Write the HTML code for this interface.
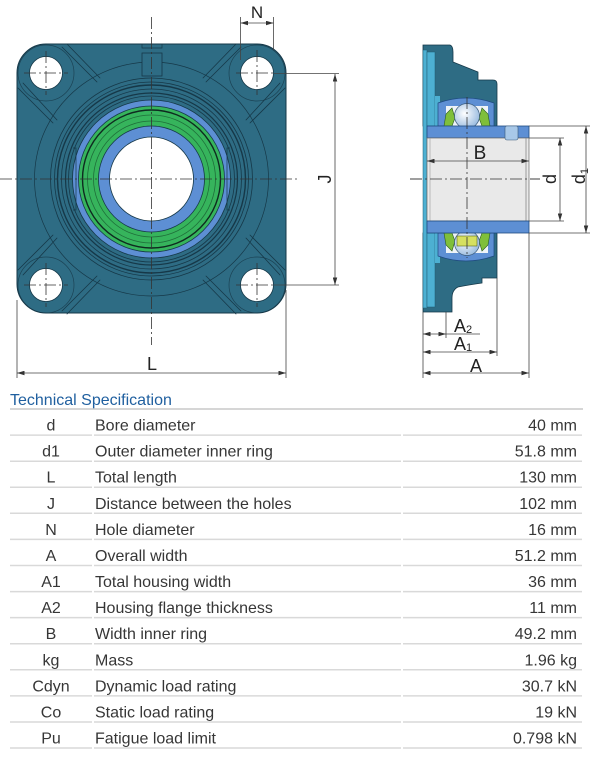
<!DOCTYPE html>
<html><head><meta charset="utf-8">
<style>html,body{margin:0;padding:0;background:#fff;}svg{display:block;}</style></head>
<body>
<svg width="600" height="763" viewBox="0 0 600 763" xmlns="http://www.w3.org/2000/svg" font-family="'Liberation Sans', sans-serif">
<defs>
<marker id="ar" viewBox="0 0 10 6" refX="10" refY="3" markerWidth="8" markerHeight="4.5" orient="auto-start-reverse" markerUnits="userSpaceOnUse"><path d="M0,0 L10,3 L0,6 z" fill="#333"/></marker>
<radialGradient id="ball" cx="0.4" cy="0.4" r="0.7"><stop offset="0" stop-color="#ffffff"/><stop offset="1" stop-color="#8fb4dc"/></radialGradient>
<clipPath id="hc"><rect x="17" y="44" width="269" height="269" rx="29"/></clipPath>
<g id="rib" fill="none" stroke="#163848" stroke-width="0.8" stroke-linecap="round">
  <path d="M18,88 L53,123 M23,83 L57,120"/>
  <path d="M62,47 L97,82 M67,44 L100,78"/>
</g>
</defs>

<!-- FRONT VIEW -->
<rect x="17" y="44" width="269" height="269" rx="29" fill="#2e6c84" stroke="#163848" stroke-width="1"/>
<g clip-path="url(#hc)" fill="none" stroke="#163848" stroke-width="0.7" opacity="0.8">
  <circle cx="46" cy="73" r="28"/><circle cx="257" cy="73" r="28"/>
  <circle cx="46" cy="285" r="28"/><circle cx="257" cy="285" r="28"/>
</g>
<use href="#rib"/>
<use href="#rib" transform="translate(303,0) scale(-1,1)"/>
<use href="#rib" transform="translate(0,358) scale(1,-1)"/>
<use href="#rib" transform="translate(303,358) scale(-1,-1)"/>
<g fill="none" stroke="#163848">
  <circle cx="151.5" cy="179" r="117" stroke-width="0.7"/>
  <circle cx="151.5" cy="179" r="101" stroke-width="0.8"/>
  <circle cx="151.5" cy="179" r="97" stroke-width="0.8"/>
  <circle cx="151.5" cy="179" r="94" stroke-width="1.4"/>
  <circle cx="151.5" cy="179" r="90" stroke-width="0.8"/>
  <circle cx="151.5" cy="179" r="86" stroke-width="1.2"/>
  <circle cx="151.5" cy="179" r="83" stroke-width="0.8"/>
</g>
<circle cx="151.5" cy="179" r="79" fill="#5d8fd4" stroke="#163848" stroke-width="0.8"/>
<circle cx="151.5" cy="179" r="73" fill="#36b45c" stroke="#163848" stroke-width="0.8"/>
<circle cx="151.5" cy="179" r="69" fill="none" stroke="#0f2a20" stroke-width="1.4"/>
<circle cx="151.5" cy="179" r="64" fill="none" stroke="#1f6e3a" stroke-width="0.8"/>
<circle cx="151.5" cy="179" r="58" fill="none" stroke="#1f6e3a" stroke-width="0.8"/>
<circle cx="151.5" cy="179" r="53" fill="#5d8fd4" stroke="#163848" stroke-width="0.8"/>
<circle cx="151.5" cy="179" r="42" fill="#ffffff" stroke="#163848" stroke-width="0.8"/>
<path d="M73,148 L76,148 L76,210 L73,210 M230,148 L227,148 L227,210 L230,210" fill="none" stroke="#163848" stroke-width="0.7"/>
<rect x="142" y="53" width="20" height="23" fill="#2e6c84" stroke="#163848" stroke-width="0.8"/>
<path d="M142,44 L142,48 L162,48 L162,44" fill="none" stroke="#163848" stroke-width="0.7"/>
<!-- holes -->
<g fill="#fff" stroke="#163848" stroke-width="0.8">
  <circle cx="46" cy="73" r="16.5"/><circle cx="257" cy="73" r="16.5"/>
  <circle cx="46" cy="285" r="16.5"/><circle cx="257" cy="285" r="16.5"/>
</g>
<!-- center lines -->
<g fill="none" stroke="#333" stroke-width="0.8" stroke-dasharray="12 3 2 3">
  <line x1="151.5" y1="17" x2="151.5" y2="345"/>
  <line x1="0" y1="179" x2="300" y2="179"/>
  <line x1="24" y1="73" x2="68" y2="73"/><line x1="46" y1="51" x2="46" y2="95"/>
  <line x1="24" y1="285" x2="68" y2="285"/><line x1="46" y1="263" x2="46" y2="307"/>
  <line x1="236" y1="73" x2="274" y2="73"/><line x1="257" y1="50" x2="257" y2="95"/>
  <line x1="236" y1="285" x2="274" y2="285"/><line x1="257" y1="263" x2="257" y2="307"/>
  <line x1="410" y1="179" x2="540" y2="179"/>
  <line x1="467" y1="97" x2="467" y2="258"/>
</g>
<!-- front dims -->
<g fill="none" stroke="#444" stroke-width="0.8">
  <line x1="274" y1="73.5" x2="339" y2="73.5"/>
  <line x1="274" y1="285" x2="339" y2="285"/>
  <line x1="240.5" y1="17" x2="240.5" y2="60"/>
  <line x1="273.5" y1="17" x2="273.5" y2="50"/>
  <line x1="17" y1="300" x2="17" y2="378"/>
  <line x1="286" y1="290" x2="286" y2="378"/>
  <line x1="240.5" y1="23" x2="273.5" y2="23" marker-start="url(#ar)" marker-end="url(#ar)"/>
  <line x1="335" y1="74" x2="335" y2="285" marker-start="url(#ar)" marker-end="url(#ar)"/>
  <line x1="17" y1="373" x2="286" y2="373" marker-start="url(#ar)" marker-end="url(#ar)"/>
</g>
<g fill="#222" font-size="18">
  <text x="257" y="18" text-anchor="middle" font-size="17">N</text>
  <text transform="translate(331,179) rotate(-90)" text-anchor="middle">J</text>
  <text x="152" y="370" text-anchor="middle">L</text>
</g>

<!-- SIDE VIEW -->
<path d="M423,45 L450,45 Q453,46 453,52 L453,62 L478,72 L478,80 L493,80 Q497,80 497,84 L497,126 L423,126 Z" fill="#2e6c84" stroke="#163848" stroke-width="0.8"/>
<path d="M423,233 L497,233 L497,278 L482,278 L482,283 Q468,285 458,287 Q452,290 452,298 L452,312 L423,312 Z" fill="#2e6c84" stroke="#163848" stroke-width="0.8"/>
<rect x="423" y="50" width="4" height="258" fill="#4db0d2" stroke="#1e5a70" stroke-width="0.5"/>
<rect x="427" y="52" width="8" height="74" fill="#4db0d2" stroke="#1e5a70" stroke-width="0.5"/>
<rect x="427" y="233" width="8" height="74" fill="#4db0d2" stroke="#1e5a70" stroke-width="0.5"/>
<rect x="435" y="96" width="5" height="30" fill="#4db0d2"/>
<rect x="435" y="233" width="5" height="30" fill="#4db0d2"/>
<path d="M438,126 L438,103 Q466,93 494,103 L494,126 Z" fill="#5d8fd4" stroke="#1e4a80" stroke-width="0.7"/>
<path d="M438,233 L438,256 Q466,266 494,256 L494,233 Z" fill="#5d8fd4" stroke="#1e4a80" stroke-width="0.7"/>
<rect x="446" y="106" width="42" height="20" fill="#eef3f8"/>
<rect x="446" y="233" width="42" height="20" fill="#eef3f8"/>
<path d="M444,126 L446,114 L452,108 L455,118 L452,126 Z" fill="#7fbf3a" stroke="#2a5a20" stroke-width="0.6"/>
<path d="M490,126 L488,114 L482,108 L479,118 L482,126 Z" fill="#7fbf3a" stroke="#2a5a20" stroke-width="0.6"/>
<path d="M444,233 L446,245 L452,251 L455,241 L452,233 Z" fill="#7fbf3a" stroke="#2a5a20" stroke-width="0.6"/>
<path d="M490,233 L488,245 L482,251 L479,241 L482,233 Z" fill="#7fbf3a" stroke="#2a5a20" stroke-width="0.6"/>
<circle cx="467" cy="116" r="12.5" fill="url(#ball)" stroke="#3a5a7a" stroke-width="0.7"/>
<circle cx="467" cy="243" r="12.5" fill="url(#ball)" stroke="#3a5a7a" stroke-width="0.7"/>
<rect x="457" y="236" width="20" height="10" fill="#d6e060" stroke="#5a6a20" stroke-width="0.6"/>
<rect x="427" y="126" width="102" height="12" fill="#5d8fd4" stroke="#1e4a80" stroke-width="0.8"/>
<rect x="427" y="138" width="102" height="83" fill="#e9e9e9" stroke="#666" stroke-width="0.7"/>
<line x1="526" y1="138" x2="526" y2="221" stroke="#888" stroke-width="0.8"/>
<line x1="430" y1="138" x2="430" y2="221" stroke="#999" stroke-width="0.6"/>
<rect x="427" y="221" width="102" height="12" fill="#5d8fd4" stroke="#1e4a80" stroke-width="0.8"/>
<rect x="505" y="126" width="13" height="14" rx="2" fill="#a8c8e8" stroke="#3a5a7a" stroke-width="0.6"/>
<g fill="none" stroke="#333" stroke-width="0.8" stroke-dasharray="12 3 2 3">
  <line x1="410" y1="179" x2="540" y2="179"/>
  <line x1="467" y1="97" x2="467" y2="258"/>
</g>
<!-- side dims -->
<g fill="none" stroke="#444" stroke-width="0.8">
  <line x1="529" y1="138" x2="564" y2="138"/>
  <line x1="529" y1="221" x2="564" y2="221"/>
  <line x1="529" y1="126" x2="590" y2="126"/>
  <line x1="529" y1="233" x2="590" y2="233"/>
  <line x1="423" y1="312" x2="423" y2="378"/>
  <line x1="446" y1="312" x2="446" y2="338"/>
  <line x1="497" y1="278" x2="497" y2="356"/>
  <line x1="529" y1="233" x2="529" y2="378"/>
  <line x1="427" y1="161" x2="529" y2="161" marker-start="url(#ar)" marker-end="url(#ar)"/>
  <line x1="560" y1="138" x2="560" y2="221" marker-start="url(#ar)" marker-end="url(#ar)"/>
  <line x1="586" y1="126" x2="586" y2="233" marker-start="url(#ar)" marker-end="url(#ar)"/>
  <line x1="423" y1="334" x2="446" y2="334" marker-start="url(#ar)" marker-end="url(#ar)"/>
  <line x1="446" y1="334" x2="480" y2="334"/>
  <line x1="423" y1="352" x2="497" y2="352" marker-start="url(#ar)" marker-end="url(#ar)"/>
  <line x1="423" y1="373" x2="529" y2="373" marker-start="url(#ar)" marker-end="url(#ar)"/>
</g>
<g fill="#222" font-size="18">
  <text x="480" y="159" text-anchor="middle" font-size="19">B</text>
  <text transform="translate(556,179) rotate(-90)" text-anchor="middle">d</text>
  <text transform="translate(585,176) rotate(-90)" text-anchor="middle">d<tspan font-size="11" dy="3">1</tspan></text>
  <text x="454" y="332">A<tspan font-size="11" dy="1">2</tspan></text>
  <text x="454" y="350">A<tspan font-size="11" dy="1">1</tspan></text>
  <text x="470" y="372">A</text>
</g>

<!-- TABLE -->
<text x="10" y="405" font-size="16" fill="#1f5f9f">Technical Specification</text>
<line x1="10" y1="409" x2="583" y2="409" stroke="#c8c8c8" stroke-width="1.5"/>
<g stroke="#d9d9d9" stroke-width="1.5">
  <path d="M10,435.1H92M94,435.1H401M403,435.1H582"/>
  <path d="M10,461.2H92M94,461.2H401M403,461.2H582"/>
  <path d="M10,487.2H92M94,487.2H401M403,487.2H582"/>
  <path d="M10,513.3H92M94,513.3H401M403,513.3H582"/>
  <path d="M10,539.4H92M94,539.4H401M403,539.4H582"/>
  <path d="M10,565.5H92M94,565.5H401M403,565.5H582"/>
  <path d="M10,591.6H92M94,591.6H401M403,591.6H582"/>
  <path d="M10,617.6H92M94,617.6H401M403,617.6H582"/>
  <path d="M10,643.7H92M94,643.7H401M403,643.7H582"/>
  <path d="M10,669.8H92M94,669.8H401M403,669.8H582"/>
  <path d="M10,695.9H92M94,695.9H401M403,695.9H582"/>
  <path d="M10,722H92M94,722H401M403,722H582"/>
  <path d="M10,748H92M94,748H401M403,748H582"/>
</g>
<g font-size="16" fill="#363636">
  <g text-anchor="middle">
    <text x="51" y="430.6">d</text>
    <text x="51" y="456.7">d1</text>
    <text x="51" y="482.7">L</text>
    <text x="51" y="508.8">J</text>
    <text x="51" y="534.9">N</text>
    <text x="51" y="561">A</text>
    <text x="51" y="587.1">A1</text>
    <text x="51" y="613.1">A2</text>
    <text x="51" y="639.2">B</text>
    <text x="51" y="665.3">kg</text>
    <text x="51" y="691.4">Cdyn</text>
    <text x="51" y="717.5">Co</text>
    <text x="51" y="743.5">Pu</text>
  </g>
  <g>
    <text x="95" y="430.6">Bore diameter</text>
    <text x="95" y="456.7">Outer diameter inner ring</text>
    <text x="95" y="482.7">Total length</text>
    <text x="95" y="508.8">Distance between the holes</text>
    <text x="95" y="534.9">Hole diameter</text>
    <text x="95" y="561">Overall width</text>
    <text x="95" y="587.1">Total housing width</text>
    <text x="95" y="613.1">Housing flange thickness</text>
    <text x="95" y="639.2">Width inner ring</text>
    <text x="95" y="665.3">Mass</text>
    <text x="95" y="691.4">Dynamic load rating</text>
    <text x="95" y="717.5">Static load rating</text>
    <text x="95" y="743.5">Fatigue load limit</text>
  </g>
  <g text-anchor="end">
    <text x="577" y="430.6">40 mm</text>
    <text x="577" y="456.7">51.8 mm</text>
    <text x="577" y="482.7">130 mm</text>
    <text x="577" y="508.8">102 mm</text>
    <text x="577" y="534.9">16 mm</text>
    <text x="577" y="561">51.2 mm</text>
    <text x="577" y="587.1">36 mm</text>
    <text x="577" y="613.1">11 mm</text>
    <text x="577" y="639.2">49.2 mm</text>
    <text x="577" y="665.3">1.96 kg</text>
    <text x="577" y="691.4">30.7 kN</text>
    <text x="577" y="717.5">19 kN</text>
    <text x="577" y="743.5">0.798 kN</text>
  </g>
</g>
</svg>
</body></html>
